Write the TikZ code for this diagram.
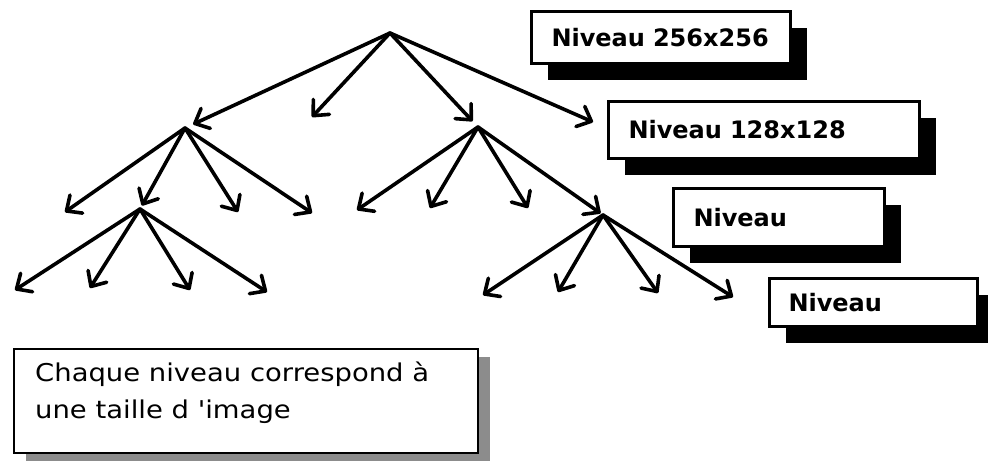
\documentclass[tikz,border=0pt]{standalone}
\usepackage{fontspec}
\setmainfont{DejaVu Sans}
\newfontfamily\widefont[FakeStretch=1.12]{DejaVu Sans}
\usetikzlibrary{arrows.meta,shadows}
\begin{document}
\begin{tikzpicture}[x=1pt,y=-1pt,
  edge/.style={line width=3.6pt, line cap=round, line join=round,
    -{Straight Barb[length=12pt,width=22pt,line cap=round,line join=round]}},
  levelbox/.style={draw, line width=3pt, fill=white, anchor=north west,
    inner xsep=20pt, inner ysep=0pt, align=left,
    font=\bfseries\fontsize{24}{28}\selectfont,
    drop shadow={shadow xshift=16pt, shadow yshift=-16pt, opacity=1, fill=black}},
  notebox/.style={draw, line width=2.2pt, fill=white, anchor=north west,
    inner sep=0pt,
    drop shadow={shadow xshift=12pt, shadow yshift=-8pt, opacity=1, fill=black!45}},
  notetext/.style={anchor=base west, inner sep=0pt,
    font=\widefont\fontsize{24.5}{37}\selectfont}]
\useasboundingbox (0,0) rectangle (988,464);

% level boxes
\node[levelbox, text width=219pt, minimum height=52pt] (b1) at (530,10) {\mbox{Niveau 256x256}};
\node[levelbox, text width=271pt, minimum height=57pt] (b2) at (607,100) {\mbox{Niveau 128x128}};
\node[levelbox, text width=171pt, minimum height=58pt] (b3) at (672,187) {Niveau};
\node[levelbox, text width=170pt, minimum height=48pt, inner xsep=19pt] (b4) at (768,277) {Niveau};

% note box
\node[notebox, minimum width=464pt, minimum height=104pt] (b5) at (13,348) {};
\node[notetext] (t1) at (35,381) {Chaque niveau correspond à};
\node[notetext] (t2) at (35,418) {une taille d 'image};

% tree points
\coordinate (r) at (390,33);
\coordinate (a) at (185,128);
\coordinate (c) at (478,127);
\coordinate (bb) at (140,209);
\coordinate (d) at (603,215);
\coordinate (r1) at (312,117);
\coordinate (r2) at (593,122);
\coordinate (a1) at (65,212);
\coordinate (a3) at (238,212);
\coordinate (a4) at (312,213);
\coordinate (c1) at (357,210);
\coordinate (c2) at (430,208);
\coordinate (c3) at (528,208);
\coordinate (bb1) at (15,290);
\coordinate (bb2) at (90,288);
\coordinate (bb3) at (190,290);
\coordinate (bb4) at (267,292);
\coordinate (d1) at (483,295);
\coordinate (d2) at (558,292);
\coordinate (d3) at (658,293);
\coordinate (d4) at (733,297);

% arrows
\draw[edge, shorten >=9pt] (r) -- (a);
\draw[edge] (r) -- (r1);
\draw[edge, shorten >=8pt] (r) -- (c);
\draw[edge] (r) -- (r2);

\draw[edge] (a) -- (a1);
\draw[edge, shorten >=4pt] (a) -- (bb);
\draw[edge] (a) -- (a3);
\draw[edge] (a) -- (a4);

\draw[edge] (c) -- (c1);
\draw[edge] (c) -- (c2);
\draw[edge] (c) -- (c3);
\draw[edge, shorten >=3pt] (c) -- (d);

\draw[edge] (bb) -- (bb1);
\draw[edge] (bb) -- (bb2);
\draw[edge] (bb) -- (bb3);
\draw[edge] (bb) -- (bb4);

\draw[edge] (d) -- (d1);
\draw[edge] (d) -- (d2);
\draw[edge] (d) -- (d3);
\draw[edge] (d) -- (d4);
\end{tikzpicture}
\end{document}
